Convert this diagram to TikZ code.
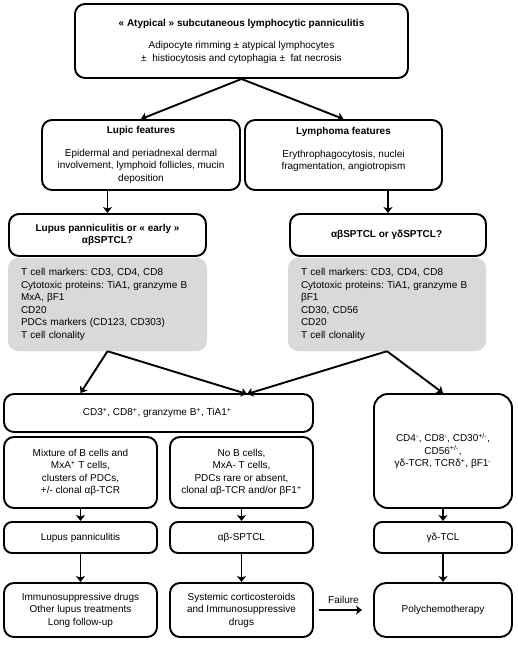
\documentclass[tikz,border=0pt]{standalone}
\usepackage{fontspec}
\setmainfont{Liberation Sans}
\usepackage{tikz}
\usetikzlibrary{arrows.meta, positioning, calc}
\definecolor{panelgray}{RGB}{217, 217, 217}
\definecolor{darkline}{RGB}{0, 0, 0}
\frenchspacing

\begin{document}
\begin{tikzpicture}[x=1pt, y=-1pt,
    font=\fontsize{10}{12.5}\selectfont,
    box/.style={draw=darkline, line width=1.9pt, rounded corners=10pt, align=center, inner sep=2pt},
    panel/.style={fill=panelgray, rounded corners=10pt, align=left, inner xsep=13pt,
                  text width=#1, minimum height=93pt},
    arr/.style={draw=darkline, line width=1.9pt, -{Stealth[length=6pt, width=9pt, inset=1.5pt]}}]
    \useasboundingbox (0,0) rectangle (518,646);

    % first level
    \node[box, minimum width=333pt, minimum height=74pt] (top) at (241.5,41) {
        \textbf{« Atypical » subcutaneous lymphocytic panniculitis}\\[10pt]
        Adipocyte rimming ± atypical lymphocytes\\
        ±\ \ histiocytosis and cytophagia ±\ \ fat necrosis
    };
    \node[box, minimum width=198pt, minimum height=70pt] (lupic) at (141,155) {
        \textbf{Lupic features}\\[10pt]
        Epidermal and periadnexal dermal\\
        involvement, lymphoid follicles, mucin\\
        deposition
    };
    \node[box, minimum width=197pt, minimum height=70pt] (lymph) at (343.5,155) {
        \textbf{Lymphoma features}\\[10pt]
        Erythrophagocytosis, nuclei\\
        fragmentation, angiotropism\\
        \phantom{x}
    };

    % questions and markers
    \node[box, minimum width=197pt, minimum height=42pt] (lupusq) at (107.5,235) {
        \textbf{Lupus panniculitis or « early »}\\ \textbf{αβSPTCL?}
    };
    \node[box, minimum width=196pt, minimum height=42pt] (sptclq) at (388,235) {
        \textbf{αβSPTCL or γδSPTCL?}
    };
    \node[panel=173pt] (markL) at (107.5,304.5) {
        T cell markers: CD3, CD4, CD8\\
        Cytotoxic proteins: TiA1, granzyme B\\
        MxA, βF1\\
        CD20\\
        PDCs markers (CD123, CD303)\\
        T cell clonality
    };
    \node[panel=172pt] (markR) at (387,304.5) {
        T cell markers: CD3, CD4, CD8\\
        Cytotoxic proteins: TiA1, granzyme B\\
        βF1\\
        CD30, CD56\\
        CD20\\
        T cell clonality
    };

    % phenotypes
    \node[box, minimum width=309pt, minimum height=38pt] (cd3) at (158.5,413) {
        CD3\textsuperscript{+}, CD8\textsuperscript{+}, granzyme B\textsuperscript{+}, TiA1\textsuperscript{+}
    };
    \node[box, rounded corners=14pt, minimum width=138pt, minimum height=114pt] (gdpheno) at (443,451) {
        CD4\textsuperscript{-}, CD8\textsuperscript{-}, CD30\textsuperscript{+/-},\\
        CD56\textsuperscript{+/-},\\
        γδ-TCR, TCRδ\textsuperscript{+}, βF1\textsuperscript{-}
    };
    \node[box, minimum width=153pt, minimum height=71pt] (mix) at (80.5,472.5) {
        Mixture of B cells and\\
        MxA\textsuperscript{+} T cells,\\
        clusters of PDCs,\\
        +/- clonal αβ-TCR
    };
    \node[box, minimum width=143pt, minimum height=71pt] (nob) at (241.5,472.5) {
        No B cells,\\
        MxA- T cells,\\
        PDCs rare or absent,\\
        clonal αβ-TCR and/or βF1\textsuperscript{+}
    };

    % diagnoses
    \node[box, rounded corners=8pt, minimum width=153pt, minimum height=31pt] (lupus) at (80.5,537.5) {Lupus panniculitis};
    \node[box, rounded corners=8pt, minimum width=143pt, minimum height=31pt] (absptcl) at (241.5,537.5) {αβ-SPTCL};
    \node[box, rounded corners=8pt, minimum width=138pt, minimum height=31pt] (gdtcl) at (443,537.5) {γδ-TCL};

    % treatments
    \node[box, minimum width=153pt, minimum height=54pt] (immuno) at (80.5,610) {
        Immunosuppressive drugs\\
        Other lupus treatments\\
        Long follow-up
    };
    \node[box, minimum width=143pt, minimum height=54pt] (cortico) at (241.5,610) {
        Systemic corticosteroids\\
        and Immunosuppressive\\
        drugs
    };
    \node[box, rounded corners=12pt, minimum width=138pt, minimum height=54pt] (poly) at (443,610) {Polychemotherapy};

    \coordinate (meet) at (247,394);

    % connectors
    \draw[arr] (top.south) -- (lupic.north);
    \draw[arr] (top.south) -- (lymph.north);
    \draw[arr] (lupic.south -| lupusq.north) -- (lupusq.north);
    \draw[arr] (lymph.south -| sptclq.north) -- (sptclq.north);
    \draw[arr] (markL.south) -- (cd3.north -| mix.north);
    \draw[arr] (markL.south) -- (meet);
    \draw[arr] (markR.south) -- (meet);
    \draw[arr] (markR.south) -- (gdpheno.north);
    \draw[arr] (mix.south) -- (lupus.north);
    \draw[arr] (nob.south) -- (absptcl.north);
    \draw[arr] (gdpheno.south) -- (gdtcl.north);
    \draw[arr] (lupus.south) -- (immuno.north);
    \draw[arr] (absptcl.south) -- (cortico.north);
    \draw[arr] (gdtcl.south) -- (poly.north);
    \draw[arr, shorten <=5pt, shorten >=11pt] (cortico.east) -- node[above=2pt] (failtxt) {Failure} (poly.west);
\end{tikzpicture}
\end{document}
